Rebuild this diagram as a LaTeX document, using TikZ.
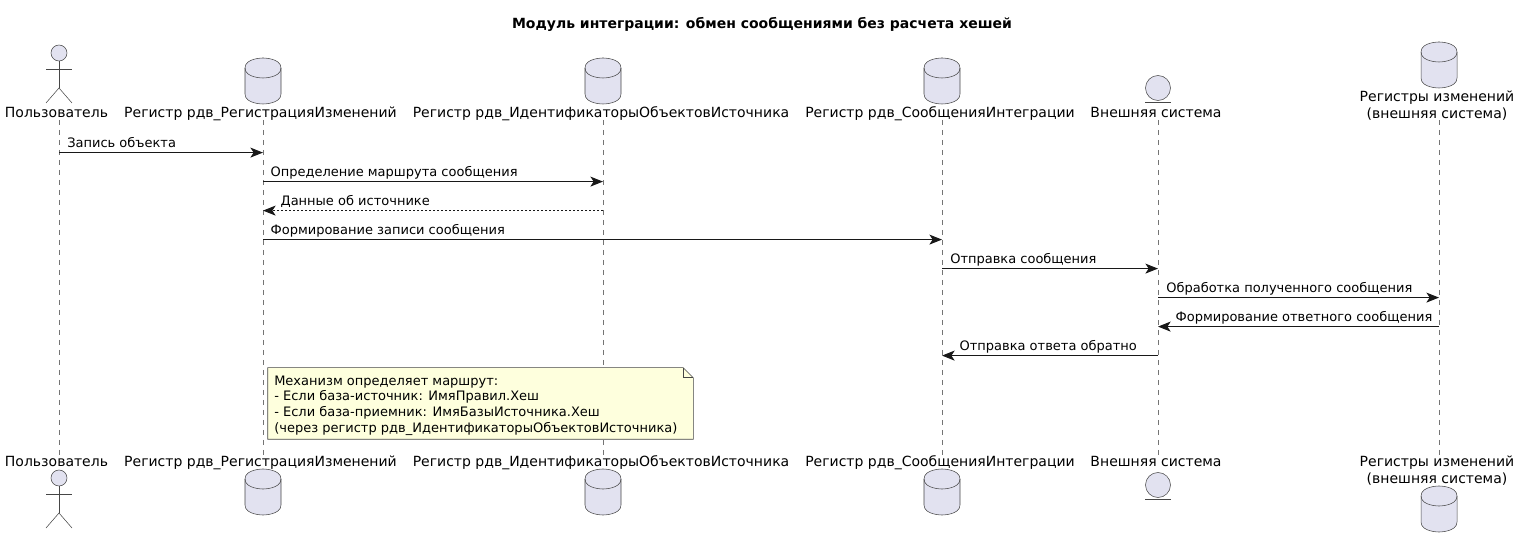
\documentclass[tikz,border=0pt]{standalone}
\usepackage{fontspec}
\setmainfont{DejaVu Sans}
\usepackage{xcolor}
\usetikzlibrary{positioning, shapes.geometric, arrows.meta, calc}
\definecolor{partfill}{HTML}{E2E2F0}
\definecolor{partline}{HTML}{181818}
\definecolor{notefill}{HTML}{FEFFDD}

\begin{document}
\begin{tikzpicture}[
        x=0.75pt, y=-0.75pt,
        >={Stealth[length=9.5pt, width=7.5pt, inset=2.5pt]},
        font=\fontsize{9.75pt}{11.5pt}\selectfont,
        head/.style={circle, draw=partline!80, fill=partfill, inner sep=0pt, line width=0.4pt},
        limb/.style={draw=partline!80, line width=0.4pt},
        lifeline/.style={draw=partline!60, line width=0.4pt, dash pattern=on 3.75pt off 3.75pt},
        msg/.style={->, draw=partline, line width=0.75pt},
        reply/.style={msg, dash pattern=on 1.5pt off 1.5pt},
        msgtext/.style={anchor=base west, inner sep=0pt, text=black},
        partname/.style={align=center, inner sep=0pt, text=black,
                font=\fontsize{10.5pt}{12.75pt}\selectfont},
        oneline/.style={partname, anchor=base},
        notebox/.style={minimum width=318.75pt, minimum height=53.25pt, inner sep=0pt},
        notetext/.style={align=left, anchor=west, inner sep=0pt, text=black,
                font=\fontsize{9.75pt}{11.75pt}\selectfont},
        actorfig/.pic={
            \node[head, minimum size=12pt] (-head) at (0,0) {};
            \draw[limb] (-head.south) -- (0,35);
            \draw[limb] (-13,16) -- (13,16);
            \draw[limb] (-13,50) -- (0,35) -- (13,50);
        },
        dbfig/.pic={
            \draw[limb, fill=partfill] (-18,-13)
            .. controls (-18,-23) and (0,-23) .. (0,-23)
            .. controls (0,-23) and (18,-23) .. (18,-13)
            -- (18,13)
            .. controls (18,23) and (0,23) .. (0,23)
            .. controls (0,23) and (-18,23) .. (-18,13) -- cycle;
            \draw[limb] (-18,-13)
            .. controls (-18,-3) and (0,-3) .. (0,-3)
            .. controls (0,-3) and (18,-3) .. (18,-13);
        },
    ]
    \useasboundingbox (0,0) rectangle (1520,548);

    % --- lifelines --------------------------------------------------
    \coordinate (user_t)  at (59,120);
    \coordinate (user_b)  at (59,455);
    \coordinate (reg_t)   at (263,120);
    \coordinate (reg_b)   at (263,455);
    \coordinate (ids_t)   at (603,120);
    \coordinate (ids_b)   at (603,455);
    \coordinate (msgs_t)  at (942,120);
    \coordinate (msgs_b)  at (942,455);
    \coordinate (ext_t)   at (1158,120);
    \coordinate (ext_b)   at (1158,455);
    \coordinate (chg_t)   at (1439,120);
    \coordinate (chg_b)   at (1439,455);

    \draw[lifeline] (user_t) -- (user_b);
    \draw[lifeline] (reg_t)  -- (reg_b);
    \draw[lifeline] (ids_t)  -- (ids_b);
    \draw[lifeline] (msgs_t) -- (msgs_b);
    \draw[lifeline] (ext_t)  -- (ext_b);
    \draw[lifeline] (chg_t)  -- (chg_b);

    \node[font=\fontsize{10.5pt}{12.75pt}\selectfont\bfseries, inner sep=0pt] (title) at (762,24)
    {Модуль интеграции: обмен сообщениями без расчета хешей};

    % --- participants, top ------------------------------------------
    \pic (user_fig) at (59,53) {actorfig};
    \pic (reg_db)  at (263,81)  {dbfig};
    \pic (ids_db)  at (603,81)  {dbfig};
    \pic (msgs_db) at (942,81)  {dbfig};
    \pic (chg_db)  at (1439,65) {dbfig};
    \node[head, minimum size=18.75pt] (ext_head) at (1158,88) {};
    \draw[limb] ([xshift=-9.4pt]ext_head.south) ++(0,-1.3pt) -- ++(18.8pt,0);

    \node[oneline] (user_name) at (56.5,118)  {Пользователь};
    \node[oneline] (reg_name)  at (260.5,118) {Регистр рдв\_РегистрацияИзменений};
    \node[oneline] (ids_name)  at (601,118)   {Регистр рдв\_ИдентификаторыОбъектовИсточника};
    \node[oneline] (msgs_name) at (940,118)   {Регистр рдв\_СообщенияИнтеграции};
    \node[oneline] (ext_name)  at (1156,118)  {Внешняя система};
    \node[partname] (chg_name)  at (1437,105.5)  {Регистры изменений\\(внешняя система)};

    % --- messages ---------------------------------------------------
    \coordinate (m1) at (0,152.6);
    \coordinate (m2) at (0,181.6);
    \coordinate (m3) at (0,210.6);
    \coordinate (m4) at (0,239.6);
    \coordinate (m5) at (0,268.6);
    \coordinate (m6) at (0,297.6);
    \coordinate (m7) at (0,326.6);
    \coordinate (m8) at (0,355.6);

    \draw[msg]   (user_t |- m1) -- (reg_t |- m1);
    \draw[msg]   (reg_t |- m2)  -- (ids_t |- m2);
    \draw[reply] (ids_t |- m3)  -- (reg_t |- m3);
    \draw[msg]   (reg_t |- m4)  -- (msgs_t |- m4);
    \draw[msg]   (msgs_t |- m5) -- (ext_t |- m5);
    \draw[msg]   (ext_t |- m6)  -- (chg_t |- m6);
    \draw[msg]   (chg_t |- m7)  -- (ext_t |- m7);
    \draw[msg]   (ext_t |- m8)  -- (msgs_t |- m8);

    \node[msgtext] (m1_text) at ([shift={(6pt,3.75pt)}]user_t |- m1) {Запись объекта};
    \node[msgtext] (m2_text) at ([shift={(5.5pt,3.75pt)}]reg_t |- m2)  {Определение маршрута сообщения};
    \node[msgtext] (m3_text) at ([shift={(13pt,3.75pt)}]reg_t |- m3) {Данные об источнике};
    \node[msgtext] (m4_text) at ([shift={(5.5pt,3.75pt)}]reg_t |- m4)  {Формирование записи сообщения};
    \node[msgtext] (m5_text) at ([shift={(6pt,3.75pt)}]msgs_t |- m5) {Отправка сообщения};
    \node[msgtext] (m6_text) at ([shift={(6pt,3.75pt)}]ext_t |- m6)  {Обработка полученного сообщения};
    \node[msgtext] (m7_text) at ([shift={(13pt,3.75pt)}]ext_t |- m7) {Формирование ответного сообщения};
    \node[msgtext] (m8_text) at ([shift={(13pt,3.75pt)}]msgs_t |- m8) {Отправка ответа обратно};

    % --- note -------------------------------------------------------
    \node[notebox] (note_box) at (480.5,403.5) {};
    \draw[limb, fill=notefill] (note_box.south west) -- (note_box.north west)
    -- ([xshift=-7.5pt]note_box.north east) -- ([yshift=-7.5pt]note_box.north east)
    -- (note_box.south east) -- cycle;
    \draw[limb] ([xshift=-7.5pt]note_box.north east) |- ([yshift=-7.5pt]note_box.north east);
    \node[notetext] (note_text) at (274,405.5)
    {Механизм определяет маршрут:\\
        - Если база-источник: ИмяПравил.Хеш\\
        - Если база-приемник: ИмяБазыИсточника.Хеш\\
        (через регистр рдв\_ИдентификаторыОбъектовИсточника)};

    % --- participants, bottom ---------------------------------------
    \node[oneline] (user_name2) at (56.5,466)  {Пользователь};
    \node[oneline] (reg_name2)  at (260.5,466) {Регистр рдв\_РегистрацияИзменений};
    \node[oneline] (ids_name2)  at (601,466)   {Регистр рдв\_ИдентификаторыОбъектовИсточника};
    \node[oneline] (msgs_name2) at (940,466)   {Регистр рдв\_СообщенияИнтеграции};
    \node[oneline] (ext_name2)  at (1156,466)  {Внешняя система};
    \node[partname] (chg_name2)  at (1437,470.5)  {Регистры изменений\\(внешняя система)};

    \pic (user_fig2) at (59,478) {actorfig};
    \pic (reg_db2)  at (263,492)  {dbfig};
    \pic (ids_db2)  at (603,492)  {dbfig};
    \pic (msgs_db2) at (942,492)  {dbfig};
    \pic (chg_db2)  at (1439,509) {dbfig};
    \node[head, minimum size=18.75pt] (ext_head2) at (1158,485) {};
    \draw[limb] ([xshift=-9.4pt]ext_head2.south) ++(0,-1.3pt) -- ++(18.8pt,0);
\end{tikzpicture}
\end{document}
